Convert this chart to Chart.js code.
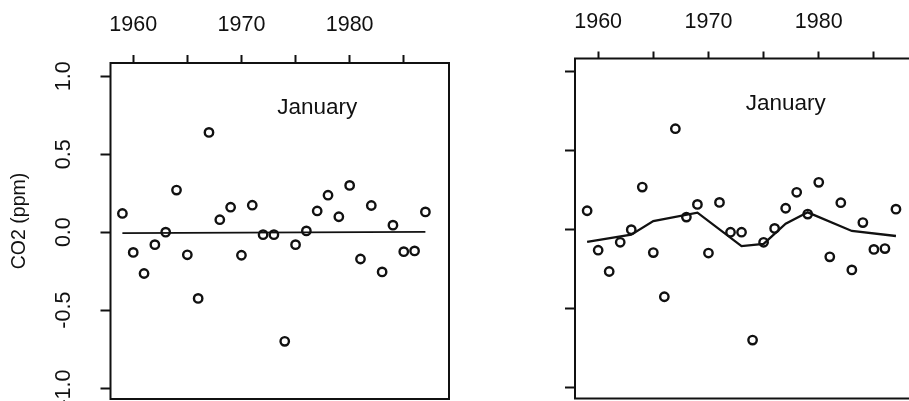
<!DOCTYPE html>
<html>
<head>
<meta charset="utf-8">
<script src="https://cdn.jsdelivr.net/npm/chart.js@4"></script>
<style>
  html, body { margin: 0; padding: 0; background: #fff; overflow: hidden; width: 909px; height: 401px; }
  canvas { position: absolute; top: 0; }
  #left { left: 0; }
  #right { left: 460px; }
</style>
</head>
<body>
<canvas id="left" width="460" height="401"></canvas>
<canvas id="right" width="470" height="401"></canvas>
<script>
// January CO2 residuals by year
const years = [1959, 1960, 1961, 1962, 1963, 1964, 1965, 1966, 1967, 1968,
               1969, 1970, 1971, 1972, 1973, 1974, 1975, 1976, 1977, 1978,
               1979, 1980, 1981, 1982, 1983, 1984, 1985, 1986, 1987];
const co2Jan = [0.12, -0.13, -0.265, -0.08, 0.0, 0.27, -0.145, -0.425, 0.64, 0.08,
                0.16, -0.148, 0.173, -0.016, -0.016, -0.70, -0.08, 0.008, 0.136, 0.237,
                0.099, 0.30, -0.172, 0.171, -0.255, 0.045, -0.125, -0.12, 0.13];

// straight-line fit (left panel)
const trendYears = [1959, 1987];
const trendValues = [-0.006, 0.002];

// local smooth (right panel)
const smoothYears = [1959, 1963, 1965, 1969, 1973, 1975, 1977, 1979, 1983, 1987];
const smoothValues = [-0.078, -0.032, 0.055, 0.108, -0.104, -0.09, 0.038, 0.11, -0.008, -0.04];

const xTickValues = [1960, 1965, 1970, 1975, 1980, 1985];
const xTickLabels = ['1960', '', '1970', '', '1980', ''];
const yTickValues = [-1, -0.5, 0, 0.5, 1];
const yTickLabels = ['-1.0', '-0.5', '0.0', '0.5', '1.0'];
const panelLabel = 'January';
const yAxisTitle = 'CO2 (ppm)';

const FONT = '"Liberation Sans", Arial, Helvetica, sans-serif';
const INK = '#111';

const toXY = (xs, ys) => xs.map((v, i) => ({ x: v, y: ys[i] }));

// box around the plotting region
const frameBox = {
  id: 'frameBox',
  afterDatasetsDraw(chart) {
    const { ctx, chartArea: a } = chart;
    ctx.save();
    ctx.strokeStyle = INK;
    ctx.lineWidth = 2;
    ctx.strokeRect(a.left, a.top, a.right - a.left, a.bottom - a.top);
    ctx.restore();
  }
};

// month caption inside the panel and the rotated axis caption
const panelText = {
  id: 'panelText',
  afterDraw(chart, args, opts) {
    const { ctx, scales: { x, y } } = chart;
    ctx.save();
    ctx.fillStyle = INK;
    ctx.textAlign = 'center';
    ctx.textBaseline = 'middle';
    ctx.font = `${opts.size}px ${FONT}`;
    ctx.fillText(opts.text, x.getPixelForValue(opts.at[0]), y.getPixelForValue(opts.at[1]));
    if (opts.title) {
      ctx.translate(opts.title.x, opts.title.y);
      ctx.rotate(-Math.PI / 2);
      ctx.font = `${opts.title.size}px ${FONT}`;
      ctx.fillText(opts.title.text, 0, 0);
    }
    ctx.restore();
  }
};

function buildPanel(id, p) {
  return new Chart(document.getElementById(id), {
    type: 'scatter',
    data: {
      datasets: [
        {
          data: toXY(years, co2Jan),
          showLine: false,
          pointStyle: 'circle',
          pointRadius: 4.2,
          pointBorderWidth: 2.4,
          pointBorderColor: INK,
          pointBackgroundColor: 'rgba(0,0,0,0)',
          order: 1
        },
        {
          data: p.line,
          showLine: true,
          borderColor: INK,
          borderWidth: p.lineWidth,
          pointRadius: 0,
          tension: 0,
          fill: false,
          order: 0
        }
      ]
    },
    options: {
      responsive: false,
      animation: false,
      devicePixelRatio: 1,
      layout: {
        autoPadding: false,
        padding: { left: 0, top: 0, right: p.padRight, bottom: p.padBottom }
      },
      plugins: {
        legend: { display: false },
        tooltip: { enabled: false },
        panelText: { text: panelLabel, at: [1977, 0.795], size: 22.5, title: p.title }
      },
      scales: {
        x: {
          type: 'linear',
          position: 'top',
          min: 1957.9,
          max: 1989.18,
          afterBuildTicks: s => { s.ticks = xTickValues.map(v => ({ value: v })); },
          afterFit: s => { s.height = p.top; s.paddingLeft = 0; s.paddingRight = 0; },
          border: { display: false },
          grid: { display: true, drawOnChartArea: false, drawTicks: true, tickLength: p.xTick, tickWidth: 2, tickColor: INK },
          ticks: {
            autoSkip: false,
            maxRotation: 0,
            padding: 17,
            color: INK,
            font: { family: FONT, size: 21.5 },
            callback: v => xTickLabels[xTickValues.indexOf(v)] ?? ''
          }
        },
        y: {
          type: 'linear',
          position: 'left',
          min: -1.07,
          max: 1.085,
          afterBuildTicks: s => { s.ticks = yTickValues.map(v => ({ value: v })); },
          afterFit: s => { s.width = p.left; s.paddingTop = 0; s.paddingBottom = 0; },
          border: { display: false },
          grid: { display: true, drawOnChartArea: false, drawTicks: true, tickLength: 10, tickWidth: 2, tickColor: INK },
          ticks: {
            display: p.yLabels,
            minRotation: 90,
            maxRotation: 90,
            crossAlign: 'center',
            padding: 18,
            color: INK,
            font: { family: FONT, size: 21.5 },
            callback: v => yTickLabels[yTickValues.indexOf(v)] ?? ''
          }
        }
      }
    },
    plugins: [frameBox, panelText]
  });
}

buildPanel('left', {
  line: toXY(trendYears, trendValues),
  lineWidth: 1.7,
  left: 110.5,
  top: 63,
  padRight: 11,
  padBottom: 2,
  xTick: 8,
  yLabels: true,
  title: { text: yAxisTitle, x: 20, y: 221, size: 19.5 }
});

buildPanel('right', {
  line: toXY(smoothYears, smoothValues),
  lineWidth: 2.3,
  left: 115,
  top: 58.5,
  padRight: 10,
  padBottom: 2.5,
  xTick: 7,
  yLabels: false,
  title: null
});
</script>
</body>
</html>
